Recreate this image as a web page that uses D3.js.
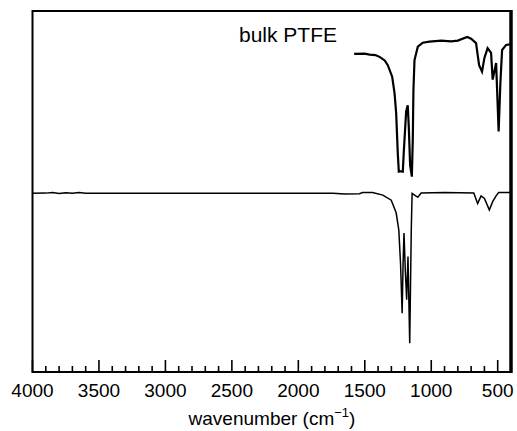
<!DOCTYPE html>
<html>
<head>
<meta charset="utf-8">
<script src="https://cdn.jsdelivr.net/npm/d3@7"></script>
<style>
  body { margin: 0; background: #fff; }
  text { font-family: "Liberation Sans", Arial, sans-serif; fill: #000; }
</style>
</head>
<body>
<div id="chart"></div>
<script>
// spectra (wavenumber in cm-1, signal in arbitrary units 0-100)
const bulkWave = [1580, 1500, 1464, 1420, 1389, 1350, 1327, 1294, 1276, 1264, 1252, 1244, 1230, 1214, 1207,
  1189, 1177, 1169, 1159, 1146, 1139, 1134, 1126, 1101, 1064, 1014, 926, 850, 800, 730, 700, 663,
  640, 618, 600, 576, 550, 538, 512, 493, 480, 467, 437, 400];
const bulkSignal = [88.1, 88.2, 87.9, 87.8, 87.3, 86.3, 85.0, 81.8, 77.2, 71.7, 60.7, 55.5, 55.6, 55.5, 60.7,
  72.1, 73.9, 67.9, 57.3, 54.1, 64.3, 78.1, 86.4, 90.1, 91.2, 91.5, 91.8, 91.6, 91.8, 92.8, 92.3, 91.1,
  85.0, 83.2, 87.0, 89.7, 88.4, 81.0, 85.6, 66.6, 80.0, 89.2, 90.6, 90.8];

const filmWave = [4000, 3900, 3850, 3800, 3750, 3700, 3650, 3600, 3000, 2500, 2000, 1740, 1650, 1540, 1517,
  1442, 1364, 1301, 1264, 1244, 1231, 1219, 1212, 1205, 1195, 1185, 1175, 1162, 1150, 1144, 1101, 1076,
  900, 680, 651, 625, 600, 563, 538, 512, 493, 400];
const filmSignal = [49.5, 49.55, 49.7, 49.45, 49.65, 49.5, 49.7, 49.5, 49.5, 49.5, 49.5, 49.5, 49.3, 49.4, 49.7,
  49.7, 49.0, 47.6, 44.1, 39.3, 30.0, 16.3, 30.0, 38.5, 28.0, 20.0, 32.0, 8.0, 40.0, 49.5, 48.4, 49.6,
  49.7, 49.6, 46.7, 48.8, 48.1, 44.9, 47.2, 48.8, 49.7, 49.7];

const majorTicks = [4000, 3500, 3000, 2500, 2000, 1500, 1000, 500];
const minorTicks = d3.range(400, 4001, 100);

const width = 517, height = 431;
const margin = { left: 32.5, right: 6, top: 11, bottom: 59 };
const plotW = width - margin.left - margin.right;
const plotH = height - margin.top - margin.bottom;

const svg = d3.select("#chart").append("svg")
  .attr("width", width)
  .attr("height", height);

const g = svg.append("g").attr("transform", `translate(${margin.left},${margin.top})`);

const x = d3.scaleLinear().domain([4000, 400]).range([0, plotW]);
const y = d3.scaleLinear().domain([0, 100]).range([plotH, 0]);

const line = d3.line().x(d => x(d[0])).y(d => y(d[1]));

g.append("path")
  .datum(d3.zip(filmWave, filmSignal))
  .attr("d", line)
  .attr("fill", "none")
  .attr("stroke", "#000")
  .attr("stroke-width", 1.5);

g.append("path")
  .datum(d3.zip(bulkWave, bulkSignal))
  .attr("d", line)
  .attr("fill", "none")
  .attr("stroke", "#000")
  .attr("stroke-width", 2.2);

// ticks pointing inward
g.selectAll(".minor").data(minorTicks).enter().append("line")
  .attr("x1", d => x(d)).attr("x2", d => x(d))
  .attr("y1", plotH).attr("y2", d => majorTicks.includes(d) ? plotH - 12 : plotH - 6)
  .attr("stroke", "#000").attr("stroke-width", 1.6);

g.selectAll(".lbl").data(majorTicks).enter().append("text")
  .attr("x", d => x(d))
  .attr("y", plotH + 25)
  .attr("text-anchor", "middle")
  .style("font-size", "19px")
  .text(d => d);

// frame
g.append("rect")
  .attr("width", plotW).attr("height", plotH)
  .attr("fill", "none").attr("stroke", "#000").attr("stroke-width", 2);
g.append("line")
  .attr("x1", plotW).attr("x2", plotW).attr("y1", -1).attr("y2", plotH + 1)
  .attr("stroke", "#000").attr("stroke-width", 3.5);

g.append("text")
  .attr("x", 239 - margin.left)
  .attr("y", 31)
  .style("font-size", "21px")
  .text("bulk PTFE");

const title = svg.append("text")
  .attr("x", 272)
  .attr("y", 425)
  .attr("text-anchor", "middle")
  .style("font-size", "19px");
title.append("tspan").text("wavenumber (cm");
title.append("tspan").attr("dy", -8).style("font-size", "13px").text("\u22121");
title.append("tspan").attr("dy", 8).text(")");
</script>
</body>
</html>
